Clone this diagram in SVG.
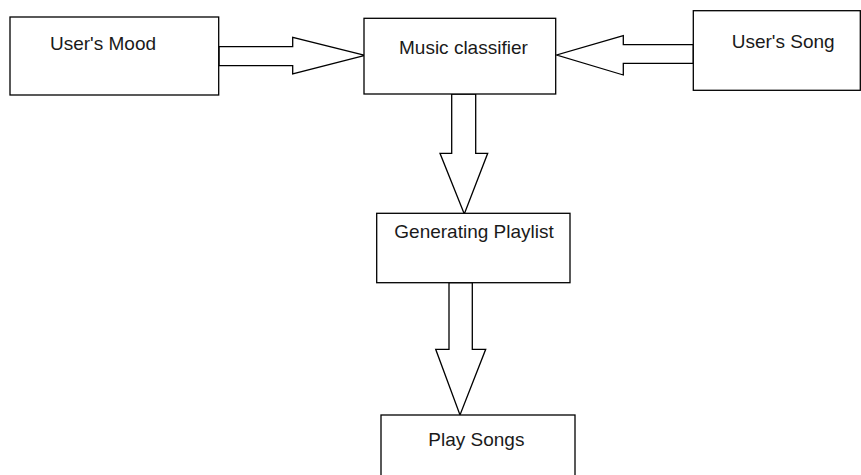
<svg xmlns="http://www.w3.org/2000/svg" width="861" height="475" viewBox="0 0 861 475">
<style>
.box{fill:#fff;stroke:#000;stroke-width:1.3}
.arr{fill:#fff;stroke:#000;stroke-width:1.3;stroke-linejoin:miter}
.t{font-family:"Liberation Sans",Arial,sans-serif;font-size:19px;fill:#1a1a1a}
</style>
<rect width="861" height="475" fill="#fff"/>
<g id="connectors">
<path class="arr" d="M219,46.7 H292.7 V37.3 L365,55.3 L292.7,74 V65.7 H219 Z"/>
<path class="arr" d="M693.3,44.7 H623.3 V35.7 L556.7,55 L623.3,75 V63.3 H693.3 Z"/>
<path class="arr" d="M451.7,94 V153.3 H440 L464.3,214 L487.7,153.3 H475.7 V94 Z"/>
<path class="arr" d="M449,282.7 V349.3 H435.7 L460,415 L485.7,349.3 H472.3 V282.7 Z"/>
</g>
<g id="users-mood">
<rect class="box" x="10" y="17" width="208.7" height="78"/>
<text class="t" x="50" y="50">User's Mood</text>
</g>
<g id="music-classifier">
<rect class="box" x="364" y="18.3" width="191.7" height="75.7"/>
<text class="t" x="399" y="54">Music classifier</text>
</g>
<g id="users-song">
<rect class="box" x="693.3" y="10.7" width="167" height="79.6"/>
<text class="t" x="731.7" y="47.7">User's Song</text>
</g>
<g id="generating-playlist">
<rect class="box" x="376.7" y="213.3" width="193.3" height="69.4"/>
<text class="t" x="394.3" y="238.3">Generating Playlist</text>
</g>
<g id="play-songs">
<rect class="box" x="381" y="415" width="194" height="70"/>
<text class="t" x="428.3" y="445.7">Play Songs</text>
</g>
</svg>
